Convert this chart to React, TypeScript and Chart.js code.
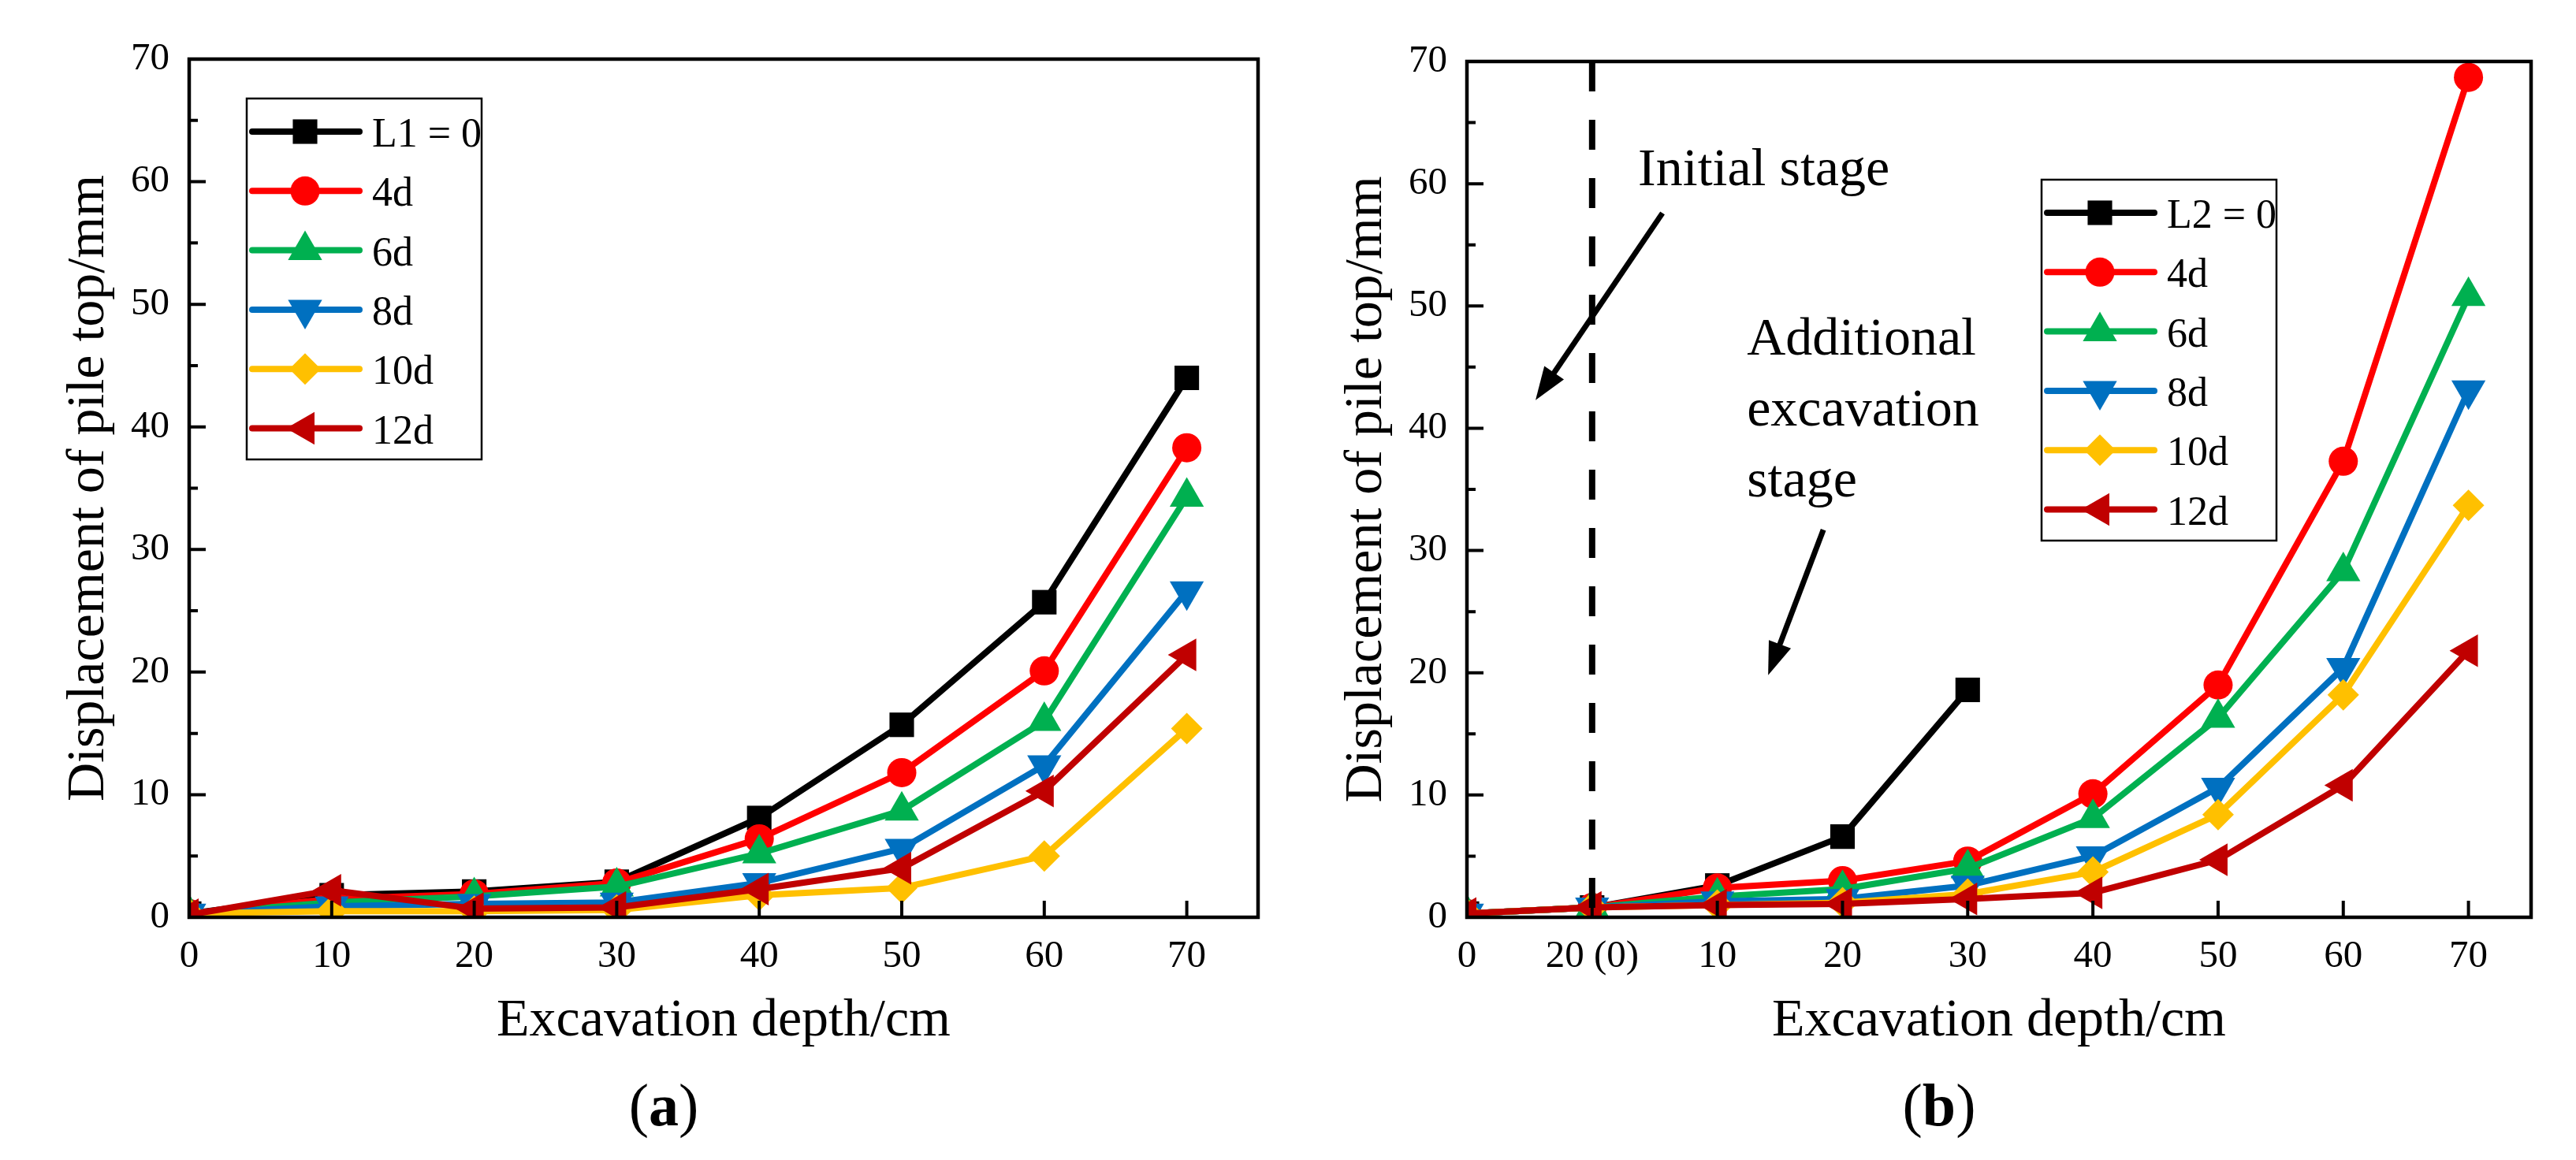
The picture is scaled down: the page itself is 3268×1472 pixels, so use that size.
import React, { useEffect, useRef } from 'react';
import { Chart, registerables } from 'chart.js';
import { drawPoint } from 'chart.js/helpers';

Chart.register(...registerables);

// ---- data (a): excavation depth in cm ----
const depthsA = [0, 10, 20, 30, 40, 50, 60, 70];
const namesA = ['L1 = 0', '4d', '6d', '8d', '10d', '12d'];
const a_L0 = [0.3, 1.8, 2.1, 2.9, 8.1, 15.7, 25.7, 44.0];
const a_4d = [0.3, 1.5, 1.9, 2.8, 6.4, 11.8, 20.1, 38.3];
const a_6d = [0.3, 1.2, 1.7, 2.5, 5.2, 8.7, 16.0, 34.3];
const a_8d = [0.3, 0.9, 1.1, 1.2, 2.8, 5.6, 12.4, 26.6];
const a_10d = [0.3, 0.5, 0.5, 0.6, 1.8, 2.4, 5.0, 15.4];
const a_12d = [0.2, 2.2, 0.7, 0.8, 2.3, 4.0, 10.3, 21.4];

// ---- data (b): categories are placed at equal steps ----
const depthLabelsB = ['0', '20 (0)', '10', '20', '30', '40', '50', '60', '70'];
const namesB = ['L2 = 0', '4d', '6d', '8d', '10d', '12d'];
const b_L0 = [0.3, 0.8, 2.6, 6.6, 18.6];
const b_4d = [0.3, 0.8, 2.4, 3.0, 4.6, 10.1, 19.0, 37.3, 68.7];
const b_6d = [0.3, 0.8, 1.7, 2.3, 4.0, 8.1, 16.3, 28.3, 50.8];
const b_8d = [0.3, 0.8, 1.3, 1.5, 2.6, 5.0, 10.6, 20.4, 43.1];
const b_10d = [0.3, 0.8, 1.0, 1.2, 1.9, 3.7, 8.4, 18.2, 33.7];
const b_12d = [0.3, 0.8, 1.0, 1.1, 1.5, 2.0, 4.7, 10.8, 21.8];

// annotations of (b), in axis units
const notesB = [
    { text: 'Initial stage', x: 1.367, y: 59.9 },
    { text: 'Additional', x: 2.236, y: 46.0 },
    { text: 'excavation', x: 2.236, y: 40.2 },
    { text: 'stage', x: 2.236, y: 34.4 },
];
const arrowsB = [
    { from: [1.562, 57.6], to: [0.548, 42.3] },
    { from: [2.847, 31.7], to: [2.406, 19.8] },
];

const colors = ['#000000', '#FF0000', '#00B050', '#0070C0', '#FFC000', '#C00000'];
const markers = [
    { style: 'rect', rotation: 0, radius: 22 },
    { style: 'circle', rotation: 0, radius: 18.5 },
    { style: 'triangle', rotation: 0, radius: 25 },
    { style: 'triangle', rotation: 180, radius: 25 },
    { style: 'rectRot', rotation: 0, radius: 20 },
    { style: 'triangle', rotation: 270, radius: 24 },
];

const SERIF = "'Liberation Serif', 'Times New Roman', serif";

const drawArrow = (ctx: CanvasRenderingContext2D, x1: number, y1: number, x2: number, y2: number) => {
    const ang = Math.atan2(y2 - y1, x2 - x1);
    const headLen = 42;
    const headHalf = 15;
    const bx = x2 - Math.cos(ang) * headLen;
    const by = y2 - Math.sin(ang) * headLen;
    ctx.lineWidth = 7;
    ctx.lineCap = 'butt';
    ctx.beginPath();
    ctx.moveTo(x1, y1);
    ctx.lineTo(bx + Math.cos(ang) * 4, by + Math.sin(ang) * 4);
    ctx.stroke();
    ctx.beginPath();
    ctx.moveTo(x2, y2);
    ctx.lineTo(bx - Math.sin(ang) * headHalf, by + Math.cos(ang) * headHalf);
    ctx.lineTo(bx + Math.sin(ang) * headHalf, by - Math.cos(ang) * headHalf);
    ctx.closePath();
    ctx.fill();
};

interface PanelProps {
    left: number;
    xs: number[];
    series: number[][];
    names: string[];
    xMax: number;
    xStep: number;
    xLabels?: string[];
    yWidth: number;
    padTop: number;
    padRight: number;
    yTitlePad: number;
    legendAt: [number, number];
    letter: string;
    dashedAt?: number;
    notes?: { text: string; x: number; y: number }[];
    arrows?: { from: number[]; to: number[] }[];
}

const Panel: React.FC<PanelProps> = (p) => {
    const chartRef = useRef<HTMLCanvasElement | null>(null);
    const chartInstanceRef = useRef<Chart | null>(null);

    useEffect(() => {
        if (!chartRef.current) return;
        if (chartInstanceRef.current) chartInstanceRef.current.destroy();

        const decor = {
            id: 'decor',
            afterDatasetsDraw(chart: any) {
                if (p.dashedAt === undefined) return;
                const { ctx, chartArea: a, scales } = chart;
                const px = scales.x.getPixelForValue(p.dashedAt);
                ctx.save();
                ctx.strokeStyle = '#000';
                ctx.lineWidth = 8;
                ctx.setLineDash([38, 36]);
                ctx.beginPath();
                ctx.moveTo(px, a.top);
                ctx.lineTo(px, a.bottom);
                ctx.stroke();
                ctx.restore();
            },
            afterDraw(chart: any) {
                const { ctx, chartArea: a, scales } = chart;
                const { x, y } = scales;
                ctx.save();
                // frame
                ctx.strokeStyle = '#000';
                ctx.lineJoin = 'miter';
                ctx.lineWidth = 4.5;
                ctx.strokeRect(a.left, a.top, a.right - a.left, a.bottom - a.top);
                // inward ticks
                ctx.lineWidth = 4;
                ctx.beginPath();
                for (let v = 5; v < 70; v += 5) {
                    const py = y.getPixelForValue(v);
                    ctx.moveTo(a.left, py);
                    ctx.lineTo(a.left + (v % 10 === 0 ? 21 : 11), py);
                }
                x.ticks.forEach((t: any) => {
                    if (t.value <= 0) return;
                    const px = x.getPixelForValue(t.value);
                    ctx.moveTo(px, a.bottom);
                    ctx.lineTo(px, a.bottom - 21);
                });
                ctx.stroke();

                // legend
                const bx = a.left + p.legendAt[0];
                const by = a.top + p.legendAt[1];
                ctx.fillStyle = '#fff';
                ctx.fillRect(bx, by, 298, 458);
                ctx.lineWidth = 2.5;
                ctx.strokeRect(bx, by, 298, 458);
                ctx.font = `52px ${SERIF}`;
                ctx.textAlign = 'left';
                ctx.textBaseline = 'alphabetic';
                chart.data.datasets.forEach((ds: any, i: number) => {
                    const ry = by + 42 + i * 75.3;
                    ctx.strokeStyle = ds.borderColor;
                    ctx.lineWidth = 8;
                    ctx.lineCap = 'round';
                    ctx.beginPath();
                    ctx.moveTo(bx + 7, ry);
                    ctx.lineTo(bx + 143, ry);
                    ctx.stroke();
                    ctx.fillStyle = ds.borderColor;
                    drawPoint(ctx, { pointStyle: ds.pointStyle, rotation: ds.pointRotation, radius: ds.pointRadius, borderWidth: 0 }, bx + 74, ry);
                    ctx.fillStyle = '#000';
                    ctx.fillText(ds.label, bx + 159, ry + 19);
                });

                // notes and arrows
                ctx.fillStyle = '#000';
                ctx.strokeStyle = '#000';
                ctx.font = `68px ${SERIF}`;
                (p.notes || []).forEach((n) => {
                    ctx.fillText(n.text, x.getPixelForValue(n.x), y.getPixelForValue(n.y));
                });
                (p.arrows || []).forEach((ar) => {
                    drawArrow(ctx,
                        x.getPixelForValue(ar.from[0]), y.getPixelForValue(ar.from[1]),
                        x.getPixelForValue(ar.to[0]), y.getPixelForValue(ar.to[1]));
                });

                // panel letter
                const cx = (a.left + a.right) / 2 - 76;
                const baseY = 1428;
                ctx.font = `76px ${SERIF}`;
                const wOpen = ctx.measureText('(').width;
                const wClose = ctx.measureText(')').width;
                ctx.font = `bold 76px ${SERIF}`;
                const wMid = ctx.measureText(p.letter).width;
                let sx = cx - (wOpen + wMid + wClose) / 2;
                ctx.font = `76px ${SERIF}`;
                ctx.fillText('(', sx, baseY);
                sx += wOpen;
                ctx.font = `bold 76px ${SERIF}`;
                ctx.fillText(p.letter, sx, baseY);
                sx += wMid;
                ctx.font = `76px ${SERIF}`;
                ctx.fillText(')', sx, baseY);
                ctx.restore();
            },
        };

        const tickFont = { family: SERIF, size: 49 };
        const titleFont = { family: SERIF, size: 68 };

        chartInstanceRef.current = new Chart(chartRef.current, {
            type: 'line',
            data: {
                datasets: p.names.map((name, i) => ({
                    label: name,
                    data: p.series[i].map((v, j) => ({ x: p.xs[j], y: v })),
                    borderColor: colors[i],
                    backgroundColor: colors[i],
                    pointBackgroundColor: colors[i],
                    pointBorderWidth: 0,
                    borderWidth: 8,
                    borderJoinStyle: 'round',
                    borderCapStyle: 'round',
                    pointStyle: markers[i].style as any,
                    pointRotation: markers[i].rotation,
                    pointRadius: markers[i].radius,
                    tension: 0,
                    fill: false,
                    order: p.names.length - i,
                })),
            },
            options: {
                animation: false,
                responsive: false,
                devicePixelRatio: 1,
                events: [],
                layout: { padding: { top: p.padTop, right: p.padRight, bottom: 0, left: 0 } },
                plugins: { legend: { display: false }, tooltip: { enabled: false } },
                scales: {
                    x: {
                        type: 'linear',
                        min: 0,
                        max: p.xMax,
                        afterFit: (s: any) => { s.height = 308; },
                        grid: { display: false, drawTicks: false },
                        border: { display: false },
                        ticks: {
                            stepSize: p.xStep,
                            includeBounds: false,
                            autoSkip: false,
                            maxRotation: 0,
                            padding: 21,
                            color: '#000',
                            font: tickFont,
                            callback: (v: any) => (p.xLabels ? p.xLabels[v] : String(v)),
                        },
                        title: { display: true, text: 'Excavation depth/cm', color: '#000', font: titleFont, padding: { top: 0, bottom: 135 } },
                    },
                    y: {
                        min: 0,
                        max: 70,
                        afterFit: (s: any) => { s.width = p.yWidth; },
                        grid: { display: false, drawTicks: false },
                        border: { display: false },
                        ticks: { stepSize: 10, padding: 25, color: '#000', font: tickFont },
                        title: { display: true, text: 'Displacement of pile top/mm', color: '#000', font: titleFont, padding: { top: p.yTitlePad, bottom: 0 } },
                    },
                },
            },
            plugins: [decor],
        } as any);

        return () => {
            if (chartInstanceRef.current) {
                chartInstanceRef.current.destroy();
                chartInstanceRef.current = null;
            }
        };
    }, []);

    return (
        <canvas
            ref={chartRef}
            width={1634}
            height={1472}
            style={{ position: 'absolute', left: p.left, top: 0, width: 1634, height: 1472 }}
        />
    );
};

const App: React.FC = () => {
    return (
        <div style={{ position: 'fixed', left: 0, top: 0, width: 3268, height: 1472, background: '#fff' }}>
            <Panel
                left={0}
                xs={depthsA}
                series={[a_L0, a_4d, a_6d, a_8d, a_10d, a_12d]}
                names={namesA}
                xMax={75}
                xStep={10}
                yWidth={240}
                padTop={75}
                padRight={38}
                yTitlePad={72}
                legendAt={[73, 50]}
                letter="a"
            />
            <Panel
                left={1634}
                xs={depthLabelsB.map((_, i) => i)}
                series={[b_L0, b_4d, b_6d, b_8d, b_10d, b_12d]}
                names={namesB}
                xMax={8.5}
                xStep={1}
                xLabels={depthLabelsB}
                yWidth={227}
                padTop={78}
                padRight={57}
                yTitlePad={59}
                legendAt={[729, 150]}
                letter="b"
                dashedAt={1}
                notes={notesB}
                arrows={arrowsB}
            />
        </div>
    );
};

export default App;
